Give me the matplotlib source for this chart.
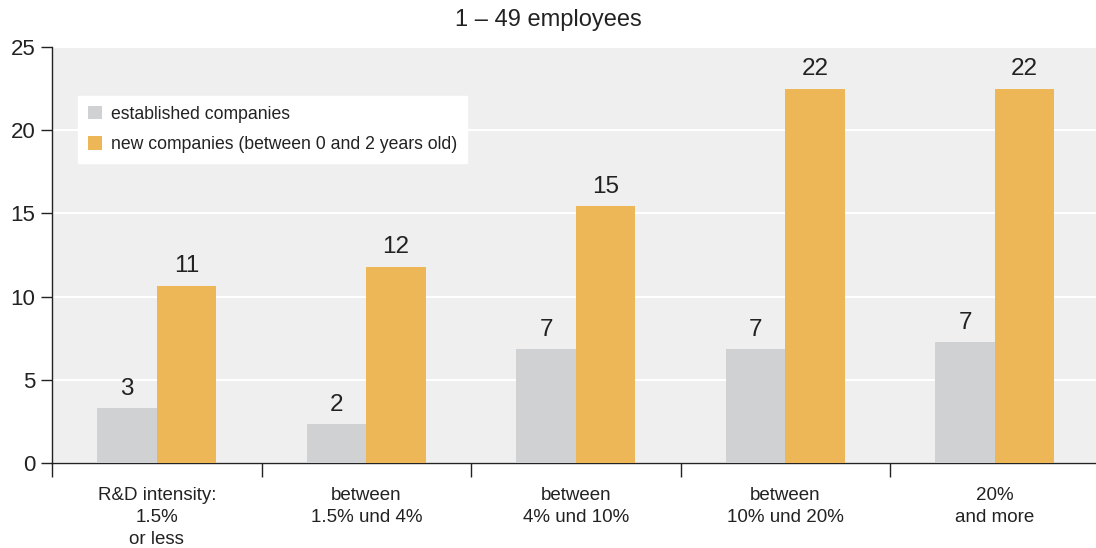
import matplotlib
import numpy as np

matplotlib.use("Agg")
import matplotlib.pyplot as plt

# Data
categories = [
    "R&D intensity:\n1.5%\nor less",
    "between\n1.5% und 4%",
    "between\n4% und 10%",
    "between\n10% und 20%",
    "20%\nand more",
]
established = [3.3, 2.35, 6.85, 6.85, 7.25]
new_companies = [10.65, 11.8, 15.45, 22.5, 22.5]
series_labels = ["established companies", "new companies (between 0 and 2 years old)"]

GRAY = "#d0d1d3"
ORANGE = "#edb757"
BACKGROUND = "#efefef"
TEXT = "#222222"

plt.rcParams.update(
    {
        "font.family": ["Liberation Sans", "DejaVu Sans"],
        "font.size": 13,
        "axes.linewidth": 1.0,
    }
)

fig = plt.figure(figsize=(10.96, 5.48), dpi=100)
ax = fig.add_axes([52 / 1096, 85 / 548, 1044 / 1096, 416 / 548])
ax.set_facecolor(BACKGROUND)

centers = np.arange(len(categories)) + 0.5
width = 0.284

bars_est = ax.bar(centers - width / 2, established, width, color=GRAY,
                  label=series_labels[0], zorder=3)
bars_new = ax.bar(centers + width / 2, new_companies, width, color=ORANGE,
                  label=series_labels[1], zorder=3)

for bars, values in ((bars_est, established), (bars_new, new_companies)):
    for bar, v in zip(bars, values):
        ax.annotate(f"{v:.0f}", (bar.get_x() + bar.get_width() / 2, v),
                    xytext=(0, 6), textcoords="offset points",
                    ha="center", va="bottom", fontsize=17.5, color=TEXT)

ax.set_ylim(0, 25)
ax.set_xlim(0, 4.983)
ax.set_yticks(np.arange(0, 26, 5))
ax.yaxis.grid(True, color="white", linewidth=1.5, zorder=0)
ax.set_axisbelow(True)

# boundaries as major ticks, labels on minor ticks at centers
ax.set_xticks(np.arange(0, len(categories)))
ax.set_xticklabels([])
ax.set_xticks(centers, minor=True)
ax.set_xticklabels(categories, minor=True, fontsize=13.5, color=TEXT,
                   linespacing=1.4)
ax.tick_params(axis="x", which="major", length=10, width=1.0, color=TEXT)
ax.tick_params(axis="x", which="minor", length=0, pad=17)
ax.tick_params(axis="y", length=8, width=1.0, color=TEXT,
               labelsize=16, labelcolor=TEXT, pad=4)

for side in ("top", "right"):
    ax.spines[side].set_visible(False)
ax.spines["left"].set_color(TEXT)
ax.spines["bottom"].set_color(TEXT)

leg = ax.legend(loc="upper left", bbox_to_anchor=(0.025, 0.882),
                frameon=True, fancybox=False, facecolor="white",
                edgecolor="white", framealpha=1.0, fontsize=12.7,
                handlelength=0.8, handleheight=0.8, handletextpad=0.5,
                labelspacing=0.75, borderpad=0.55, borderaxespad=0)
for t in leg.get_texts():
    t.set_color(TEXT)

fig.text(0.5, 1 - 20 / 548, "1 – 49 employees", ha="center", va="center",
         fontsize=17, color=TEXT)

fig.savefig("out.png", dpi=100, facecolor="white")
